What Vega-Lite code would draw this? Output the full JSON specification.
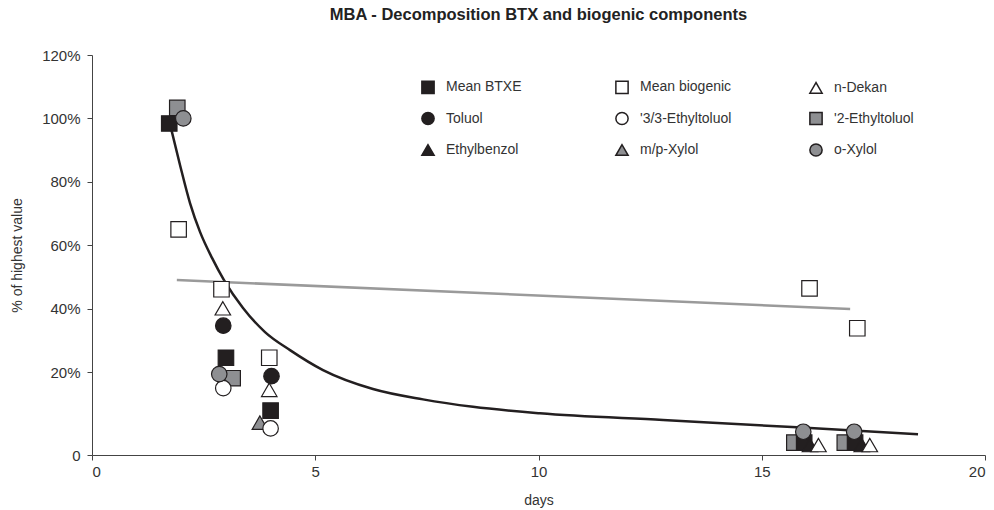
{
  "$schema": "https://vega.github.io/schema/vega-lite/v6.json",
  "width": 893,
  "height": 400,
  "autosize": "none",
  "padding": {"left": 92, "top": 55, "right": 9, "bottom": 55},
  "background": "white",
  "config": {
    "font": "Liberation Sans",
    "view": {"stroke": null},
    "axis": {"grid": false, "domainColor": "#444", "tickColor": "#444", "labelColor": "#333", "titleColor": "#333", "labelFontSize": 15, "titleFontSize": 14, "titleFontWeight": "normal", "tickSize": 5}
  },
  "title": {"text": "MBA - Decomposition BTX and biogenic components", "fontSize": 16.5, "fontWeight": "bold", "color": "#222", "anchor": "middle", "offset": 25},
  "datasets": {
    "curve": [
      {"day": 1.747, "value": 0.982},
      {"day": 1.971, "value": 0.853},
      {"day": 2.195, "value": 0.733},
      {"day": 2.419, "value": 0.642},
      {"day": 2.688, "value": 0.56},
      {"day": 2.956, "value": 0.49},
      {"day": 3.382, "value": 0.402},
      {"day": 3.875, "value": 0.326},
      {"day": 4.435, "value": 0.269},
      {"day": 5.174, "value": 0.206},
      {"day": 6.293, "value": 0.159},
      {"day": 7.413, "value": 0.134},
      {"day": 8.533, "value": 0.116},
      {"day": 10.03, "value": 0.1005},
      {"day": 12.79, "value": 0.0843},
      {"day": 15.79, "value": 0.0667},
      {"day": 18.5, "value": 0.0499}
    ],
    "trend": [
      {"day": 1.9, "value": 0.49},
      {"day": 16.98, "value": 0.399}
    ],
    "points": [
      {"series": "m/p-Xylol", "day": 3.76, "value": 0.078},
      {"series": "'2-Ethyltoluol", "day": 1.91, "value": 1.033},
      {"series": "'2-Ethyltoluol", "day": 3.15, "value": 0.185},
      {"series": "'2-Ethyltoluol", "day": 15.73, "value": 0.03},
      {"series": "'2-Ethyltoluol", "day": 16.86, "value": 0.03},
      {"series": "Mean BTXE", "day": 1.73, "value": 0.984},
      {"series": "Mean BTXE", "day": 3.0, "value": 0.245},
      {"series": "Mean BTXE", "day": 4.0, "value": 0.107},
      {"series": "Mean BTXE", "day": 15.95, "value": 0.03},
      {"series": "Mean BTXE", "day": 17.09, "value": 0.03},
      {"series": "Ethylbenzol", "day": 16.08, "value": 0.024},
      {"series": "Ethylbenzol", "day": 17.24, "value": 0.024},
      {"series": "Toluol", "day": 2.94, "value": 0.346},
      {"series": "Toluol", "day": 4.02, "value": 0.19},
      {"series": "'3/3-Ethyltoluol", "day": 2.94, "value": 0.161},
      {"series": "'3/3-Ethyltoluol", "day": 4.0, "value": 0.064},
      {"series": "n-Dekan", "day": 2.93, "value": 0.401},
      {"series": "n-Dekan", "day": 3.97, "value": 0.157},
      {"series": "n-Dekan", "day": 16.27, "value": 0.024},
      {"series": "n-Dekan", "day": 17.42, "value": 0.024},
      {"series": "Mean biogenic", "day": 1.94, "value": 0.65},
      {"series": "Mean biogenic", "day": 2.9, "value": 0.461},
      {"series": "Mean biogenic", "day": 3.97, "value": 0.245},
      {"series": "Mean biogenic", "day": 16.07, "value": 0.464},
      {"series": "Mean biogenic", "day": 17.14, "value": 0.338},
      {"series": "o-Xylol", "day": 2.045, "value": 1.0},
      {"series": "o-Xylol", "day": 2.85, "value": 0.195},
      {"series": "o-Xylol", "day": 15.93, "value": 0.056},
      {"series": "o-Xylol", "day": 17.07, "value": 0.056}
    ]
  },
  "layer": [
    {
      "data": {"name": "curve"},
      "mark": {"type": "line", "color": "#231f20", "strokeWidth": 2.5, "interpolate": "monotone"},
      "encoding": {
        "x": {"field": "day", "type": "quantitative", "scale": {"domain": [0, 20], "nice": false, "zero": false},
          "axis": {"values": [0, 5, 10, 15, 20], "format": "d", "title": "days", "titlePadding": 14, "labelPadding": 4}},
        "y": {"field": "value", "type": "quantitative", "scale": {"domain": [0, 0.2, 1.2], "range": [400, 317, 0], "nice": false, "zero": false},
          "axis": {"values": [0, 0.2, 0.4, 0.6, 0.8, 1, 1.2], "labelExpr": "datum.value == 0 ? '0' : format(datum.value, '.0%')", "title": "% of highest value", "titlePadding": 17, "labelPadding": 7}}
      }
    },
    {
      "data": {"name": "trend"},
      "mark": {"type": "line", "color": "#9a9a9a", "strokeWidth": 2.5},
      "encoding": {
        "x": {"field": "day", "type": "quantitative"},
        "y": {"field": "value", "type": "quantitative"}
      }
    },
    {
      "data": {"name": "points"},
      "mark": {"type": "point", "filled": true, "opacity": 1, "size": 240, "stroke": "#231f20", "strokeWidth": 1.2},
      "encoding": {
        "x": {"field": "day", "type": "quantitative"},
        "y": {"field": "value", "type": "quantitative"},
        "shape": {"field": "series", "type": "nominal",
          "scale": {"domain": ["Mean BTXE", "Mean biogenic", "n-Dekan", "Toluol", "'3/3-Ethyltoluol", "'2-Ethyltoluol", "Ethylbenzol", "m/p-Xylol", "o-Xylol"],
                    "range": ["square", "square", "triangle-up", "circle", "circle", "square", "triangle-up", "triangle-up", "circle"]},
          "legend": {"title": null, "orient": "none", "direction": "horizontal", "legendX": 329, "legendY": 25, "columns": 3, "gridAlign": "all", "columnPadding": 74, "rowPadding": 11.5, "labelFontSize": 14, "labelColor": "#333", "labelOffset": 11, "symbolSize": 150, "padding": 0,
            "encode": {"symbols": {"update": {"stroke": {"value": "#231f20"}, "strokeWidth": {"value": 1.2}}}}}},
        "fill": {"field": "series", "type": "nominal",
          "scale": {"domain": ["Mean BTXE", "Mean biogenic", "n-Dekan", "Toluol", "'3/3-Ethyltoluol", "'2-Ethyltoluol", "Ethylbenzol", "m/p-Xylol", "o-Xylol"],
                    "range": ["#231f20", "#ffffff", "#ffffff", "#231f20", "#ffffff", "#8e8f92", "#231f20", "#8e8f92", "#8e8f92"]},
          "legend": {"title": null, "orient": "none", "direction": "horizontal", "legendX": 329, "legendY": 25, "columns": 3, "gridAlign": "all", "columnPadding": 74, "rowPadding": 11.5, "labelFontSize": 14, "labelColor": "#333", "labelOffset": 11, "symbolSize": 150, "padding": 0,
            "encode": {"symbols": {"update": {"stroke": {"value": "#231f20"}, "strokeWidth": {"value": 1.2}}}}}}
      }
    }
  ]
}
